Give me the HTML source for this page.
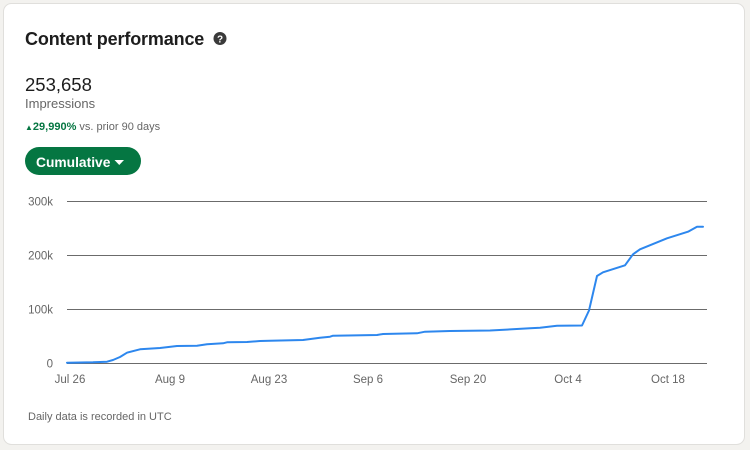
<!DOCTYPE html>
<html>
<head>
<meta charset="utf-8">
<style>
  html, body { margin: 0; padding: 0; background: #f3f2ef; }
  body { width: 750px; height: 450px; overflow: hidden; }
  svg { display: block; font-family: "Liberation Sans", Arial, sans-serif; }
</style>
</head>
<body>
<svg width="750" height="450" viewBox="0 0 750 450" xmlns="http://www.w3.org/2000/svg">
  <rect x="0" y="0" width="750" height="450" fill="#f3f2ef"/>
  <rect x="3.5" y="3.5" width="741" height="441" rx="8" ry="8" fill="#ffffff" stroke="#e0dfdc" stroke-width="1"/>

  <!-- Header -->
  <text x="25" y="45" font-size="18" font-weight="bold" fill="#1d1d1d" letter-spacing="-0.15">Content performance</text>
  <circle cx="220" cy="38.5" r="6.5" fill="#3a3a3a"/>
  <text x="220" y="42.5" font-size="10" font-weight="bold" fill="#ffffff" text-anchor="middle">?</text>

  <text x="25" y="91" font-size="18.5" fill="#1d1d1d">253,658</text>
  <text x="25" y="108" font-size="13" fill="#666666">Impressions</text>
  <text x="25" y="130" font-size="11" fill="#057642" font-weight="bold"><tspan font-size="8">▲</tspan>29,990%<tspan fill="#666666" font-weight="normal"> vs. prior 90 days</tspan></text>

  <!-- Button -->
  <rect x="25" y="147" width="116" height="28" rx="14" ry="14" fill="#057642"/>
  <text x="36" y="167" font-size="13.8" font-weight="bold" fill="#ffffff">Cumulative</text>
  <polygon points="114.5,160 124,160 119.25,165" fill="#ffffff"/>

  <!-- Grid -->
  <g stroke="#6b6b6b" stroke-width="1.1">
    <line x1="67" y1="201.5" x2="707" y2="201.5"/>
    <line x1="67" y1="255.5" x2="707" y2="255.5"/>
    <line x1="67" y1="309.5" x2="707" y2="309.5"/>
    <line x1="67" y1="363.5" x2="707" y2="363.5"/>
  </g>

  <!-- Y labels -->
  <g font-size="11.5" fill="#666666" text-anchor="end">
    <text x="53" y="205.5">300k</text>
    <text x="53" y="259.5">200k</text>
    <text x="53" y="313.5">100k</text>
    <text x="53" y="367.5">0</text>
  </g>

  <!-- X labels -->
  <g font-size="11.5" fill="#666666" text-anchor="middle">
    <text x="70" y="383">Jul 26</text>
    <text x="170" y="383">Aug 9</text>
    <text x="269" y="383">Aug 23</text>
    <text x="368" y="383">Sep 6</text>
    <text x="468" y="383">Sep 20</text>
    <text x="568" y="383">Oct 4</text>
    <text x="668" y="383">Oct 18</text>
  </g>

  <!-- Series -->
  <polyline fill="none" stroke="#2d87ee" stroke-width="2" stroke-linejoin="round" stroke-linecap="round"
    points="67,362.7 93,362.3 107,361.7 113,360 120,357 127,352.7 140,349.3 160,348 177,346 197,345.7 207,344.3 223,343.3 227,342.3 247,342 260,341 270,340.7 303,340 320,337.7 330,336.7 333,335.7 377,335 383,334 417,333.3 425,331.7 450,331 490,330.5 530,328.3 540,327.7 557,325.7 582,325.5 589,310.5 597,276 603,272.3 625,265.3 633,254.3 640,249.3 667,238.3 688,231.7 697,226.7 703,226.7"/>

  <!-- Footer -->
  <text x="28" y="420" font-size="11" fill="#666666">Daily data is recorded in UTC</text>
</svg>
</body>
</html>
